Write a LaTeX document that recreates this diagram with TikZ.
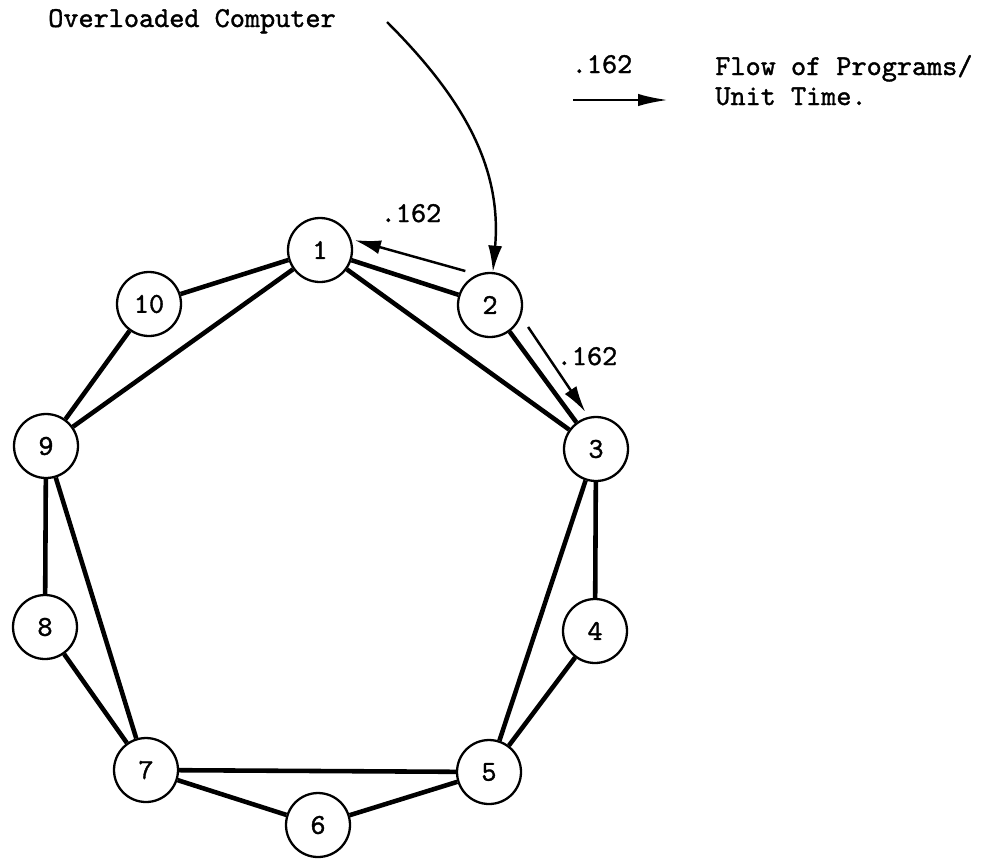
\documentclass[tikz,border=0pt]{standalone}
\usepackage{fontspec}
\newfontfamily\typw{lmmono10-regular.otf}[FakeBold=1.3]
\usetikzlibrary{arrows.meta,calc}
\begin{document}
\begin{tikzpicture}[x=0.02cm,y=-0.02cm,
  every node/.style={font=\typw\fontsize{16.4}{19}\selectfont},
  comp/.style={circle,draw,line width=1.3pt,minimum size=1.28cm,inner sep=0pt},
  link/.style={line width=2.6pt},
  flow/.style={line width=1.4pt,-{Latex[length=15pt,width=8pt]}},
  txt/.style={inner sep=0pt,anchor=base}]
\useasboundingbox (0,0) rectangle (1000,859);

% computers
\node[comp] (n1) at (320,250) {1};
\node[comp] (n2) at (490,305) {2};
\node[comp] (n3) at (596,449) {3};
\node[comp] (n4) at (595,631) {4};
\node[comp] (n5) at (489,772) {5};
\node[comp] (n6) at (318,825) {6};
\node[comp] (n7) at (146,770) {7};
\node[comp] (n8) at (45,627) {8};
\node[comp] (n9) at (46,446) {9};
\node[comp] (n10) at (149,304) {10};

% links
\draw[link] (n1) -- (n2);
\draw[link] (n2) -- (n3);
\draw[link] (n1) -- (n3);
\draw[link] (n3) -- (n4);
\draw[link] (n3) -- (n5);
\draw[link] (n4) -- (n5);
\draw[link] (n5) -- (n6);
\draw[link] (n5) -- (n7);
\draw[link] (n6) -- (n7);
\draw[link] (n7) -- (n8);
\draw[link] (n7) -- (n9);
\draw[link] (n8) -- (n9);
\draw[link] (n9) -- (n10);
\draw[link] (n9) -- (n1);
\draw[link] (n10) -- (n1);

% flows
\draw[flow] ($(n2.center)+(126:0.84cm)$) -- ($(n1.center)+(16:0.72cm)$);
\draw[flow] ($(n2.center)+(-30:0.88cm)$) -- ($(n3.center)+(106:0.77cm)$);
\node[txt] (f21) at (411,222) {.162};
\node[txt] (f23) at (587,365) {.162};

% overloaded computer
\node[txt] (ovl) at (192,27) {Overloaded Computer};
\coordinate (ovs) at (387,22);
\draw[flow] (ovs) to[out=-45,in=85] (n2.85);

% legend
\node[txt] (lgv) at (602,73) {.162};
\coordinate (lga) at (573,100);
\coordinate (lgb) at (668,100);
\draw[line width=1.4pt,-{Latex[length=17pt,width=7pt]}] (lga) -- (lgb);
\node[txt,anchor=base west] (lg1) at (715,75) {Flow of Programs/};
\node[txt,anchor=base west] (lg2) at (715,105) {Unit Time.};
\end{tikzpicture}
\end{document}
